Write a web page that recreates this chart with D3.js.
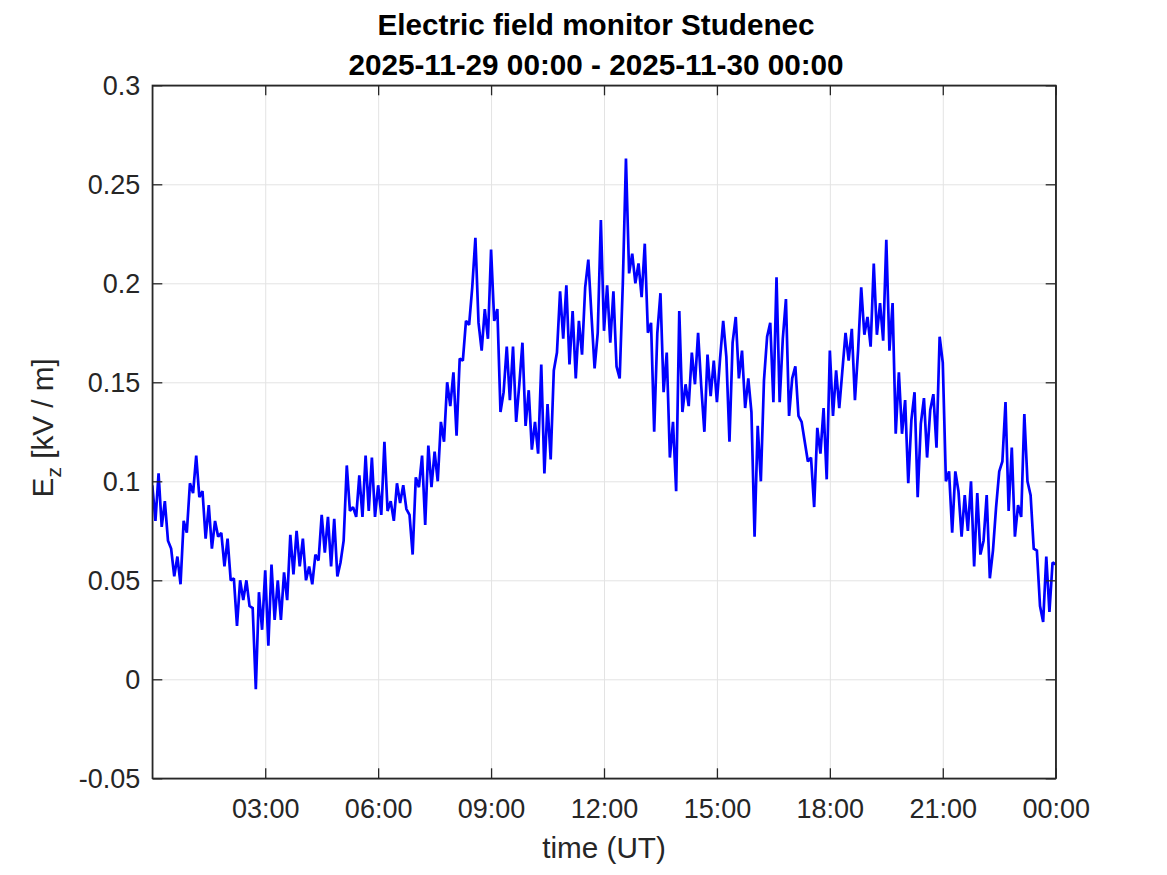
<!DOCTYPE html>
<html>
<head>
<meta charset="utf-8">
<script src="https://cdn.jsdelivr.net/npm/d3@7"></script>
<style>
  html, body { margin: 0; padding: 0; background: #ffffff; }
  svg { display: block; }
  text { font-family: "Liberation Sans", Arial, Helvetica, sans-serif; fill: #262626; }
</style>
</head>
<body>
<svg id="chart" width="1167" height="875"></svg>
<script>
// ---- data ----
const titleLines = ["Electric field monitor Studenec", "2025-11-29 00:00 - 2025-11-30 00:00"];
const startTime = "2025-11-29T00:00:00Z";
const endTime = "2025-11-30T00:00:00Z";
const sampleMinutes = 5;
// Ez [kV/m] every 5 minutes
const ezValues = [
  0.098,0.080,0.104,0.077,0.090,0.070,0.066,0.052,0.062,0.048,
  0.080,0.074,0.099,0.094,0.113,0.092,0.095,0.071,0.088,0.066,
  0.080,0.072,0.074,0.057,0.071,0.050,0.051,0.027,0.050,0.040,
  0.050,0.037,0.036,-0.005,0.044,0.025,0.055,0.017,0.058,0.030,
  0.050,0.030,0.054,0.040,0.073,0.053,0.075,0.057,0.071,0.050,
  0.057,0.048,0.063,0.060,0.083,0.064,0.082,0.057,0.081,0.052,
  0.059,0.070,0.108,0.085,0.087,0.082,0.103,0.082,0.113,0.085,
  0.112,0.082,0.098,0.083,0.120,0.085,0.090,0.080,0.099,0.089,
  0.098,0.086,0.083,0.063,0.102,0.097,0.113,0.078,0.118,0.097,
  0.115,0.100,0.130,0.120,0.150,0.138,0.155,0.123,0.162,0.161,
  0.181,0.179,0.198,0.223,0.180,0.166,0.187,0.172,0.217,0.181,
  0.187,0.135,0.145,0.168,0.141,0.168,0.130,0.149,0.170,0.128,
  0.146,0.116,0.130,0.114,0.159,0.104,0.139,0.111,0.156,0.165,
  0.196,0.172,0.199,0.159,0.186,0.152,0.181,0.164,0.198,0.212,
  0.184,0.157,0.175,0.232,0.176,0.199,0.170,0.196,0.158,0.152,
  0.200,0.263,0.205,0.215,0.200,0.210,0.193,0.220,0.175,0.180,
  0.125,0.175,0.195,0.145,0.165,0.112,0.130,0.095,0.186,0.135,
  0.149,0.138,0.165,0.149,0.175,0.148,0.125,0.164,0.143,0.161,
  0.140,0.162,0.181,0.163,0.120,0.170,0.183,0.152,0.166,0.137,
  0.152,0.135,0.072,0.128,0.100,0.151,0.173,0.180,0.140,0.203,
  0.140,0.172,0.192,0.133,0.152,0.158,0.133,0.130,0.120,0.110,
  0.112,0.087,0.127,0.114,0.137,0.101,0.166,0.133,0.156,0.137,
  0.156,0.175,0.161,0.177,0.141,0.166,0.198,0.174,0.183,0.168,
  0.210,0.174,0.190,0.171,0.222,0.166,0.190,0.124,0.155,0.124,
  0.141,0.099,0.131,0.145,0.092,0.129,0.142,0.112,0.136,0.144,
  0.117,0.173,0.160,0.100,0.105,0.074,0.105,0.095,0.072,0.093,
  0.075,0.100,0.057,0.094,0.063,0.070,0.093,0.051,0.065,0.087,
  0.105,0.110,0.140,0.085,0.117,0.072,0.088,0.082,0.134,0.100,
  0.093,0.066,0.065,0.037,0.029,0.062,0.034,0.059,0.058
];
const yTicks = [-0.05, 0, 0.05, 0.1, 0.15, 0.2, 0.25, 0.3];
const yTickLabels = ["-0.05", "0", "0.05", "0.1", "0.15", "0.2", "0.25", "0.3"];
const xTickHours = [3, 6, 9, 12, 15, 18, 21, 24];
const xLabel = "time (UT)";

// ---- layout ----
const svg = d3.select("#chart");
const pL = 152.3, pR = 1055.7, pT = 85.3, pB = 778.3;
const axisColor = "#262626";
const gridColor = "#e3e3e3";

const t0 = new Date(startTime), t1 = new Date(endTime);
const data = ezValues.map((v, i) => ({ t: new Date(t0.getTime() + i * sampleMinutes * 60000), v }));
const xTicks = xTickHours.map(h => new Date(t0.getTime() + h * 3600000));

const x = d3.scaleUtc().domain([t0, t1]).range([pL, pR]);
const y = d3.scaleLinear().domain([-0.05, 0.3]).range([pB, pT]);

svg.append("rect").attr("x", 0).attr("y", 0).attr("width", 1167).attr("height", 875).attr("fill", "#fff");

// grid
const grid = svg.append("g");
grid.append("g").attr("transform", `translate(0,${pB})`)
  .call(d3.axisBottom(x).tickValues(xTicks).tickSize(-(pB - pT)).tickFormat(""))
  .call(g => g.select(".domain").remove());
grid.append("g").attr("transform", `translate(${pL},0)`)
  .call(d3.axisLeft(y).tickValues(yTicks).tickSize(-(pR - pL)).tickFormat(""))
  .call(g => g.select(".domain").remove());

// clip + line
svg.append("clipPath").attr("id", "clip").append("rect")
  .attr("x", pL).attr("y", pT).attr("width", pR - pL).attr("height", pB - pT);
const line = d3.line().x(d => x(d.t)).y(d => y(d.v));
svg.append("path").datum(data)
  .attr("clip-path", "url(#clip)")
  .attr("fill", "none").attr("stroke", "#0000ff").attr("stroke-width", 2.7)
  .attr("stroke-linejoin", "miter").attr("stroke-miterlimit", 1.5)
  .attr("d", line);

// axes
const fmt = d3.utcFormat("%H:%M");
const tickFont = "27px";
const axes = svg.append("g");
const xAxisG = axes.append("g").attr("transform", `translate(0,${pB})`)
  .call(d3.axisBottom(x).tickValues(xTicks).tickSizeInner(-10).tickSizeOuter(0).tickPadding(0).tickFormat(fmt));
xAxisG.selectAll("text").attr("y", 40).attr("dy", null).style("font-size", tickFont);
axes.append("g").attr("transform", `translate(0,${pT})`)
  .call(d3.axisTop(x).tickValues(xTicks).tickSizeInner(-10).tickSizeOuter(0).tickFormat(""));
const yAxisG = axes.append("g").attr("transform", `translate(${pL},0)`)
  .call(d3.axisLeft(y).tickValues(yTicks).tickSizeInner(-10).tickSizeOuter(0).tickPadding(0)
    .tickFormat((d, i) => yTickLabels[i]));
yAxisG.selectAll("text").attr("x", -12).attr("dy", "0.35em").style("font-size", tickFont);
axes.append("g").attr("transform", `translate(${pR},0)`)
  .call(d3.axisRight(y).tickValues(yTicks).tickSizeInner(-10).tickSizeOuter(0).tickFormat(""));
axes.selectAll(".domain, .tick line").attr("stroke", axisColor).attr("stroke-width", 1.3);
axes.selectAll(".tick text").attr("font-family", null).attr("fill", axisColor);
grid.selectAll("line").attr("stroke", gridColor).attr("stroke-width", 1);

// box
svg.append("rect").attr("x", pL).attr("y", pT).attr("width", pR - pL).attr("height", pB - pT)
  .attr("fill", "none").attr("stroke", axisColor).attr("stroke-width", 1.3);

// title
const cx = (pL + pR) / 2;
svg.append("text").attr("x", cx - 8).attr("y", 35).attr("text-anchor", "middle")
  .style("font-size", "29.7px").style("font-weight", "bold").style("fill", "#000").text(titleLines[0]);
svg.append("text").attr("x", cx - 8).attr("y", 75).attr("text-anchor", "middle")
  .style("font-size", "29.7px").style("font-weight", "bold").style("fill", "#000").text(titleLines[1]);

// x label
svg.append("text").attr("x", cx).attr("y", 858).attr("text-anchor", "middle")
  .style("font-size", "29.7px").text(xLabel);

// y label
const yl = svg.append("text").attr("transform", `translate(53,${(pT + pB) / 2 - 4}) rotate(-90)`)
  .attr("text-anchor", "middle").style("font-size", "29.7px");
yl.append("tspan").text("E");
yl.append("tspan").attr("dy", 8).style("font-size", "21px").text("z");
yl.append("tspan").attr("dy", -8).text(" [kV / m]");
</script>
</body>
</html>
